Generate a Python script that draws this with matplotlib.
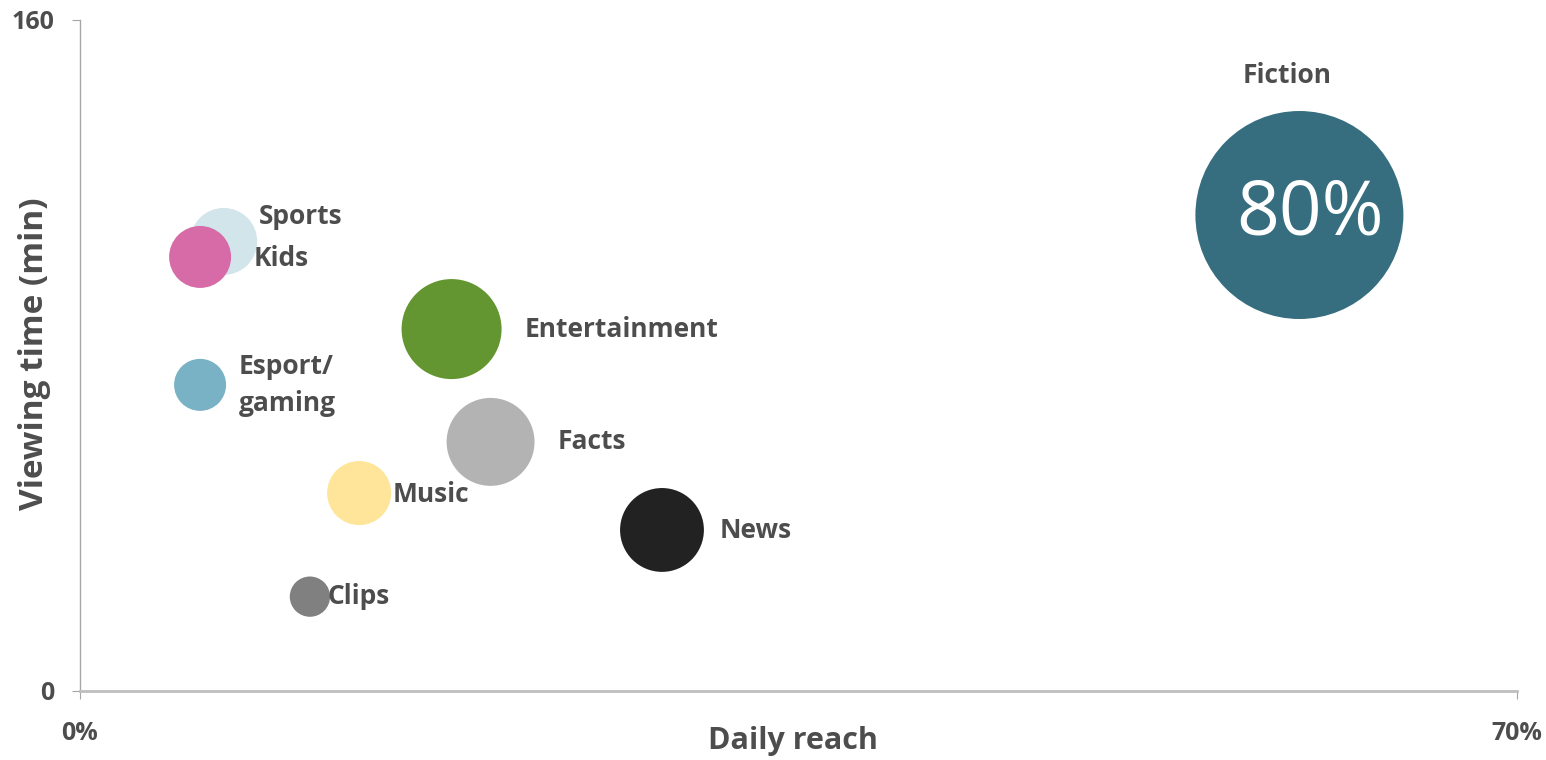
import matplotlib
matplotlib.use("Agg")
import matplotlib.pyplot as plt
import numpy as np

# --------------------------------------------------------------------------- #
# Data
# --------------------------------------------------------------------------- #
genres = ["Fiction", "Sports", "Kids", "Entertainment", "Esport/\ngaming",
          "Facts", "Music", "News", "Clips"]
daily_reach = [59.4, 7.0, 5.85, 18.1, 5.85, 20.0, 13.6, 28.35, 11.2]   # percent
viewing_time = [113.5, 107.2, 103.5, 86.3, 73.0, 59.4, 47.2, 38.4, 22.5]  # minutes
bubble_share = [80, 8.3, 7.1, 18.5, 5.0, 14.3, 7.6, 13.0, 3.0]          # bubble size
colors = ["#366E80", "#D2E5EB", "#D66BA8", "#639630", "#78B2C4",
          "#B3B3B3", "#FEE599", "#222222", "#808080"]

# label offsets from the bubble centre, in pixels (dx, dy up)
label_offsets = [(-12, 140), (35, 25), (54, -2), (73, 0), (39, 0),
                 (67, 0), (33, -1), (58, -1), (18, 0)]

x_ticks = [0, 70]
x_tick_labels = ["0%", "70%"]
y_ticks = [0, 160]

TEXT = "#4D4D4D"
DPI = 100
W, H = 1546, 760
PX = 72 / DPI  # points per pixel
MAX_R_PX = 104  # radius of the biggest bubble in pixels
FONT = ["Open Sans", "DejaVu Sans"]

plt.rcParams["font.family"] = FONT

fig = plt.figure(figsize=(W / DPI, H / DPI), dpi=DPI)
ax = fig.add_axes([80 / W, 69 / H, 1437 / W, 671 / H])

radii = MAX_R_PX * np.sqrt(np.array(bubble_share) / max(bubble_share))
sizes = (2 * radii * PX) ** 2

for i in range(len(genres)):
    ax.scatter(daily_reach[i], viewing_time[i], s=sizes[i], color=colors[i],
               edgecolors="none", zorder=3, clip_on=False)
    dx, dy = label_offsets[i]
    ha = "center" if i == 0 else "left"
    ax.annotate(genres[i], (daily_reach[i], viewing_time[i]),
                xytext=(dx * PX, dy * PX), textcoords="offset points",
                ha=ha, va="center", fontsize=19, fontweight="bold",
                color=TEXT, linespacing=1.45, zorder=4)

ax.annotate(f"{bubble_share[0]}%", (daily_reach[0], viewing_time[0]),
            xytext=(11 * PX, 0), textcoords="offset points",
            ha="center", va="center", fontsize=54, color="white", zorder=5)

ax.set_xlim(0, 70)
ax.set_ylim(0, 160)
ax.set_xticks(x_ticks)
ax.set_xticklabels(x_tick_labels)
ax.set_yticks(y_ticks)

for side in ("top", "right"):
    ax.spines[side].set_visible(False)
ax.spines["left"].set_color("#A6A6A6")
ax.spines["left"].set_linewidth(1.0)
ax.spines["bottom"].set_color("#BFBFBF")
ax.spines["bottom"].set_linewidth(2.0)

ax.tick_params(axis="x", length=8 * PX, width=0.8, color="#A6A6A6",
               pad=22 * PX, labelsize=18, labelcolor=TEXT)
ax.tick_params(axis="y", length=8 * PX, width=0.8, color="#A6A6A6",
               pad=18 * PX, labelsize=18, labelcolor=TEXT)
for lbl in ax.get_xticklabels() + ax.get_yticklabels():
    lbl.set_fontweight("bold")

# axis titles placed where the reference has them
fig.text(793 / W, 1 - 741 / H, "Daily reach", ha="center", va="center",
         fontsize=22, fontweight="bold", color=TEXT)
fig.text(35 / W, 1 - 354 / H, "Viewing time (min)", ha="center", va="center",
         rotation=90, fontsize=24, fontweight="bold", color=TEXT)

fig.savefig("out.png", dpi=DPI)
